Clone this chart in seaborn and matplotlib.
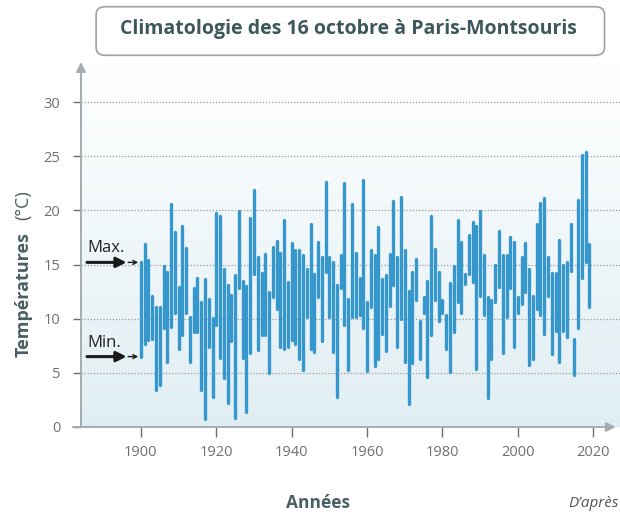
import numpy as np
import pandas as pd
import matplotlib
matplotlib.use("Agg")
import matplotlib.pyplot as plt
from matplotlib.patches import FancyBboxPatch
import seaborn as sns

# Daily min / max temperature on 16 October, Paris-Montsouris
years = list(range(1900, 2020))
tmax = [15.2, 16.9, 15.4, 12.1, 11.1, 11.1, 14.9, 14.3, 20.6, 18.0,
        12.9, 18.6, 16.5, 10.2, 12.8, 13.8, 11.5, 13.7, 11.8, 10.1,
        19.8, 19.5, 14.6, 13.1, 12.2, 14.0, 19.9, 13.5, 13.0, 19.3,
        21.9, 15.7, 14.2, 16.0, 12.5, 16.6, 17.2, 16.1, 19.1, 13.4,
        17.0, 16.3, 16.3, 15.9, 14.6, 18.7, 14.1, 17.1, 15.7, 22.6,
        15.7, 15.2, 13.1, 15.9, 22.5, 11.8, 20.6, 16.1, 13.8, 22.8,
        11.5, 16.3, 15.9, 18.5, 13.7, 14.0, 16.0, 20.9, 15.7, 21.2,
        16.3, 12.6, 14.3, 15.5, 9.8, 12.0, 13.5, 19.5, 16.4, 14.3,
        11.7, 10.3, 13.3, 14.9, 19.1, 17.1, 14.1, 17.7, 18.9, 18.6,
        19.9, 15.9, 12.0, 11.7, 15.0, 18.1, 15.9, 15.9, 17.5, 17.1,
        12.0, 15.7, 17.0, 14.6, 12.1, 18.7, 20.7, 21.1, 15.7, 14.2,
        14.2, 17.3, 15.0, 15.2, 18.7, 8.1, 21.0, 25.1, 25.4, 16.9]
tmin = [6.5, 7.7, 8.0, 8.1, 3.4, 3.9, 9.1, 6.0, 9.2, 10.5,
        7.2, 8.5, 10.5, 6.0, 8.8, 8.8, 3.4, 0.7, 7.4, 2.8,
        9.4, 6.4, 4.5, 2.2, 7.9, 0.8, 12.8, 6.4, 1.4, 6.8,
        14.1, 7.1, 8.5, 8.5, 5.0, 12.0, 10.9, 7.4, 7.2, 7.4,
        8.0, 7.7, 6.3, 5.3, 10.2, 7.2, 6.9, 12.0, 7.9, 14.3,
        10.2, 6.9, 2.8, 12.8, 9.4, 5.3, 10.2, 10.2, 10.3, 9.1,
        5.2, 11.1, 5.6, 6.3, 8.6, 7.0, 11.2, 13.1, 7.4, 10.0,
        6.0, 2.1, 5.9, 11.7, 6.3, 10.5, 4.6, 8.5, 11.7, 9.8,
        10.5, 7.2, 5.1, 8.8, 11.5, 10.5, 13.2, 14.1, 13.4, 5.4,
        12.1, 10.3, 2.7, 6.3, 11.5, 12.9, 6.8, 10.2, 12.8, 7.4,
        10.5, 11.4, 12.5, 5.7, 6.3, 10.9, 10.3, 8.6, 12.1, 6.7,
        8.9, 6.0, 8.9, 8.3, 14.4, 4.8, 9.1, 13.8, 15.2, 11.1]
xticks = [1900, 1920, 1940, 1960, 1980, 2000, 2020]
yticks = [0, 5, 10, 15, 20, 25, 30]

sns.set_style("white")
plt.rcParams['font.family'] = ['Open Sans', 'DejaVu Sans']

df = pd.DataFrame({
    "year": years * 2,
    "temp": tmin + tmax,
})

bar_color = "#3597cc"
axis_color = "#a3adb0"
text_color = "#4a5f64"
tick_color = "#6f6f6f"

fig = plt.figure(figsize=(6.2, 5.17), dpi=100)
ax = fig.add_axes([0.1306, 0.1741, 0.8694, 0.7059])

# soft vertical gradient behind the plot
grad = np.linspace(0, 1, 256).reshape(-1, 1)
cmap = matplotlib.colors.LinearSegmentedColormap.from_list("bg", ["#ffffff", "#e0eef3"])
ax.imshow(grad, extent=[0, 1, 0, 1], transform=ax.transAxes, cmap=cmap,
          aspect="auto", zorder=0, origin="upper")

# one vertical segment per year, from min to max
sns.lineplot(data=df, x="year", y="temp", units="year", estimator=None,
             sort=False, color=bar_color, linewidth=2.4, legend=False, ax=ax, zorder=3)

ax.set_xlim(1884.1, 2027.1)
ax.set_ylim(0, 33.7)
ax.set_xticks(xticks)
ax.set_yticks(yticks)
ax.yaxis.grid(True, linestyle=(0, (1, 1.5)), color="#9a9a9a", linewidth=0.9)
ax.xaxis.grid(False)
ax.set_axisbelow(True)
for s in ax.spines.values():
    s.set_visible(False)
ax.tick_params(axis="x", colors=tick_color, labelsize=10.5, length=7, width=1,
               pad=6, direction="out", bottom=True)
ax.tick_params(axis="y", colors=tick_color, labelsize=10.5, length=6, width=1,
               pad=9, direction="out", left=True)
ax.set_xlabel("")
ax.set_ylabel("")

# axes with arrow heads
ax.annotate("", xy=(0, 1.0), xytext=(0, 0), xycoords="axes fraction",
            arrowprops=dict(arrowstyle="-|>", color=axis_color, lw=1.4,
                            mutation_scale=14, shrinkA=0, shrinkB=0))
ax.annotate("", xy=(0.992, 0), xytext=(-0.015, 0), xycoords="axes fraction",
            arrowprops=dict(arrowstyle="-|>", color=axis_color, lw=1.4,
                            mutation_scale=14, shrinkA=0, shrinkB=0))

# Max. / Min. markers on the first year
ax.text(1885.9, tmax[0] + 1.0, "Max.", fontsize=12, color="#222222",
        ha="left", va="baseline", fontweight="medium")
ax.text(1885.9, tmin[0] + 0.9, "Min.", fontsize=12, color="#222222",
        ha="left", va="baseline", fontweight="medium")
for v in (tmax[0], tmin[0]):
    ax.annotate("", xy=(1896.2, v), xytext=(1885.7, v), xycoords="data",
                arrowprops=dict(arrowstyle="-|>", color="#1a1a1a", lw=2.2,
                                mutation_scale=15, shrinkA=0, shrinkB=0))
    ax.annotate("", xy=(1899.3, v), xytext=(1896.6, v), xycoords="data",
                arrowprops=dict(arrowstyle="->", color="#1a1a1a", lw=1,
                                mutation_scale=7, shrinkA=0, shrinkB=0))

# title in rounded box
box = FancyBboxPatch((0.155, 0.893), 0.82, 0.094, transform=fig.transFigure,
                     boxstyle="round,pad=0,rounding_size=0.015",
                     facecolor="white", edgecolor="#9aa4a7", linewidth=1.2)
fig.patches.append(box)
fig.text(0.562, 0.943, "Climatologie des 16 octobre à Paris-Montsouris",
         fontsize=14, fontweight="bold", color="#3d575c", ha="center", va="center")

# y label: bold word, light unit
fig.text(0.038, 1 - 357 / 517, "Températures", rotation=90, fontsize=13,
         fontweight="bold", color=text_color, ha="center", va="bottom")
fig.text(0.038, 1 - 220 / 517, "(°C)", rotation=90, fontsize=13,
         color=text_color, ha="center", va="bottom")
fig.text(0.513, 0.027, "Années", fontsize=12.5, fontweight="bold",
         color=text_color, ha="center", va="center")
fig.text(0.916, 0.027, "D’après", fontsize=11, style="italic",
         color="#555555", ha="left", va="center")

fig.savefig("out.png", dpi=100)
